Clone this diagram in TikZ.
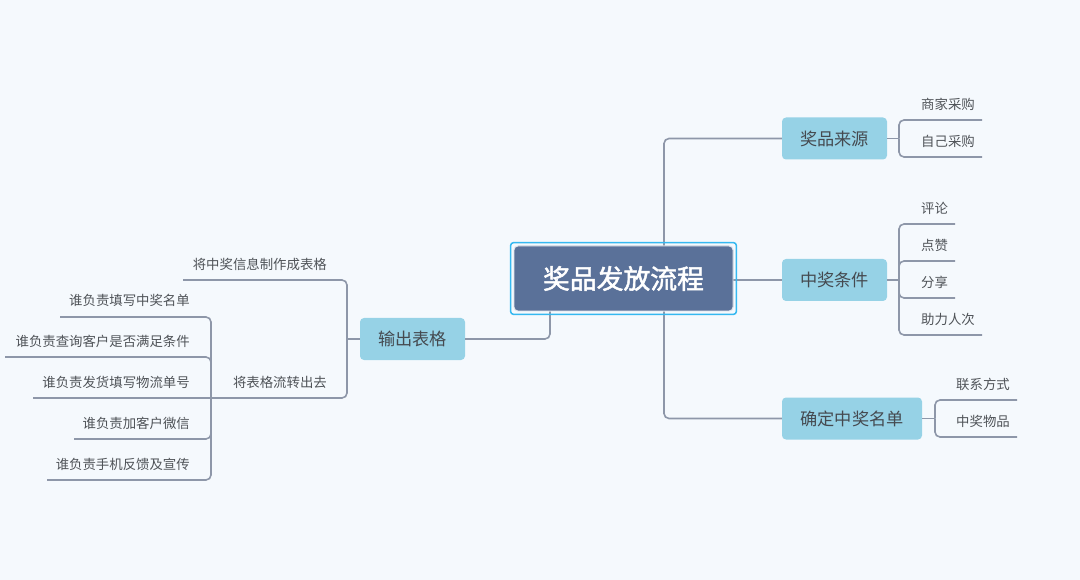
\documentclass[tikz,border=0pt]{standalone}
\usepackage{fontspec}
\setmainfont{Noto Sans CJK SC}
\newfontfamily\rootfont[FakeBold=1.8]{Noto Sans CJK SC}
\definecolor{bg}{HTML}{F5F9FD}
\definecolor{linec}{HTML}{8E97A9}
\definecolor{boxc}{HTML}{96D2E6}
\definecolor{rootc}{HTML}{5A7199}
\definecolor{rootb}{HTML}{35B8F0}
\definecolor{txt}{HTML}{454A50}
\definecolor{ltxt}{HTML}{4F5358}
\tikzset{
  conn/.style={draw=linec, line width=1.6pt, rounded corners=5pt},
  mainbox/.style={fill=boxc, rounded corners=4pt, minimum height=42pt, inner sep=0pt, text=txt, font=\fontsize{17.2}{20}\selectfont},
  rootbox/.style={fill=rootc, draw=white!85!rootc, line width=0.8pt, rounded corners=4pt, minimum width=219pt, minimum height=65pt, inner sep=0pt, text=white, font=\fontsize{26.8}{30}\rootfont},
  lab/.style={inner sep=0pt, text=ltxt, font=\fontsize{13.4}{16}\selectfont},
}
\begin{document}
\begin{tikzpicture}[x=1pt,y=-1pt]
\useasboundingbox (0,0) rectangle (1080,580);
\fill[bg] (0,0) rectangle (1080,580);

% nodes
\node[rootbox] (root) at (623.5,278.5) {奖品发放流程};
\node[mainbox, minimum width=105pt] (q1) at (834.5,138.5) {奖品来源};
\node[mainbox, minimum width=105pt] (q2) at (834.5,280) {中奖条件};
\node[mainbox, minimum width=140pt] (q3) at (852,418.5) {确定中奖名单};
\node[mainbox, minimum width=105pt] (o) at (412.5,339) {输出表格};

% coordinates
\coordinate (tr) at (664,0);
\coordinate (tl) at (550,0);
\coordinate (b1) at (899,138.5);
\coordinate (b2) at (899,280);
\coordinate (b3) at (935,418.5);
\coordinate (bl) at (347,339);
\coordinate (bl2) at (211,398);

% right labels
\node[lab, anchor=west] (a1) at (921,104.5) {商家采购};
\node[lab, anchor=west] (a2) at (921,141.5) {自己采购};
\coordinate (a1e) at (982,120);
\coordinate (a2e) at (982,157);
\node[lab, anchor=west] (c1) at (921,208.5) {评论};
\node[lab, anchor=west] (c2) at (921,245.5) {点赞};
\node[lab, anchor=west] (c3) at (921,282.5) {分享};
\node[lab, anchor=west] (c4) at (921,319) {助力人次};
\coordinate (c1e) at (955,224);
\coordinate (c2e) at (955,261);
\coordinate (c3e) at (955,298);
\coordinate (c4e) at (982,335);
\node[lab, anchor=west] (d1) at (956,384.5) {联系方式};
\node[lab, anchor=west] (d2) at (956,421.5) {中奖物品};
\coordinate (d1e) at (1017,400);
\coordinate (d2e) at (1017,437);

% left labels
\node[lab, anchor=east] (l1) at (327,264) {将中奖信息制作成表格};
\node[lab, anchor=east] (l2) at (327,382.5) {将表格流转出去};
\coordinate (l1e) at (183,280);
\node[lab, anchor=east] (m1) at (190,300.5) {谁负责填写中奖名单};
\node[lab, anchor=east] (m2) at (190,341.5) {谁负责查询客户是否满足条件};
\node[lab, anchor=east] (m3) at (190,382.5) {谁负责发货填写物流单号};
\node[lab, anchor=east] (m4) at (190,423) {谁负责加客户微信};
\node[lab, anchor=east] (m5) at (190,464.5) {谁负责手机反馈及宣传};
\coordinate (m1e) at (60,317);
\coordinate (m2e) at (5,357);
\coordinate (m3e) at (33,398);
\coordinate (m4e) at (74,439);
\coordinate (m5e) at (47,480);

% connectors
\draw[conn] (root.north -| tr) |- (q1.west);
\draw[conn] (root.south -| tr) |- (q3.west);
\draw[conn] (root.east |- q2.west) -- (q2.west);
\draw[conn] (root.south -| tl) |- (o.east);

\draw[conn] (q1.east) -- (b1);
\draw[conn] (b1) |- (a1e);
\draw[conn] (b1) |- (a2e);
\draw[conn] (q2.east) -- (b2);
\draw[conn] (b2) |- (c1e);
\draw[conn] (b2) |- (c2e);
\draw[conn] (b2) |- (c3e);
\draw[conn] (b2) |- (c4e);
\draw[conn] (q3.east) -- (b3);
\draw[conn] (b3) |- (d1e);
\draw[conn] (b3) |- (d2e);

\draw[conn] (o.west) -- (bl);
\draw[conn] (bl) |- (l1e);
\draw[conn] (bl) |- (bl2);
\draw[conn] (bl2) |- (m1e);
\draw[conn] (bl2) |- (m2e);
\draw[conn] (bl2) -- (m3e);
\draw[conn] (bl2) |- (m4e);
\draw[conn] (bl2) |- (m5e);

% root on top with cyan frame
\draw[rootb, line width=1.5pt, rounded corners=3pt] ([shift={(-3,3)}]root.south west) rectangle ([shift={(3,-3)}]root.north east);
\node[rootbox] at (root.center) {奖品发放流程};
\end{tikzpicture}
\end{document}
